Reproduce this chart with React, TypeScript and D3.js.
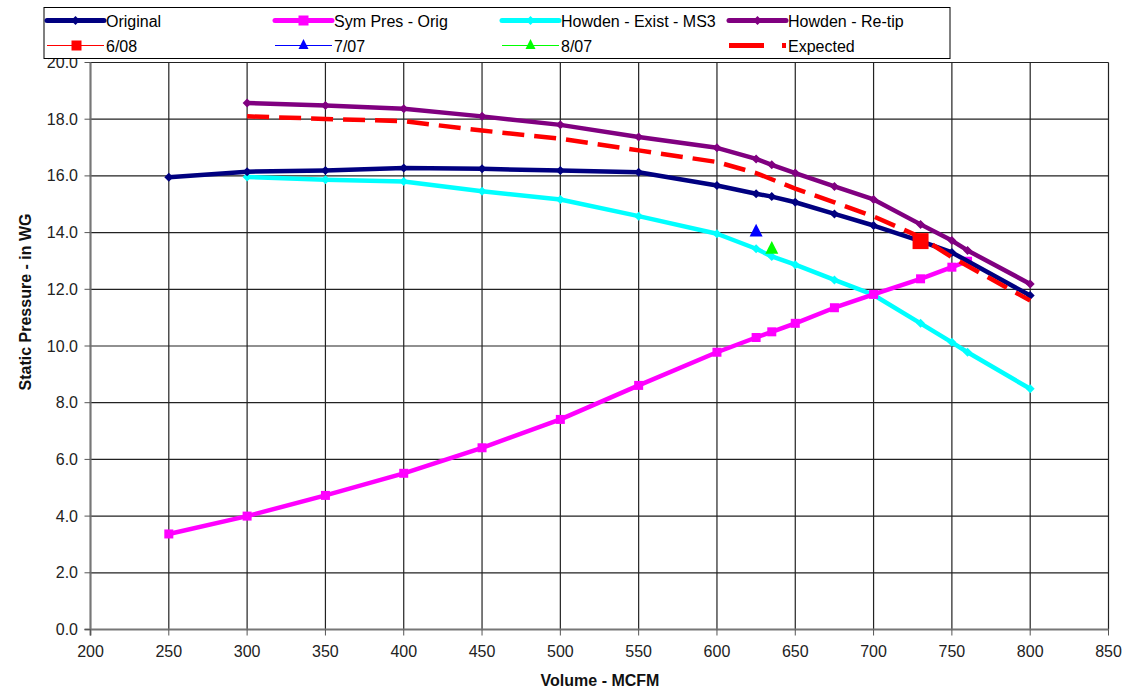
import React from "react";
import * as d3 from "d3";

const volOriginal = [250, 300, 350, 400, 450, 500, 550, 600, 625, 635, 650, 675, 700, 730, 750, 800];
const presOriginal = [15.95, 16.15, 16.19, 16.28, 16.25, 16.19, 16.13, 15.66, 15.37, 15.27, 15.07, 14.66, 14.25, 13.7, 13.3, 11.78];

const volSym = [250, 300, 350, 400, 450, 500, 550, 600, 625, 635, 650, 675, 700, 730, 750, 760];
const presSym = [3.37, 4.0, 4.73, 5.51, 6.41, 7.41, 8.61, 9.78, 10.3, 10.5, 10.8, 11.35, 11.82, 12.37, 12.78, 12.99];

const volExist = [300, 350, 400, 450, 500, 550, 600, 625, 635, 650, 675, 700, 730, 750, 760, 800];
const presExist = [15.96, 15.86, 15.8, 15.46, 15.17, 14.58, 13.96, 13.43, 13.16, 12.87, 12.33, 11.8, 10.8, 10.13, 9.78, 8.49];

const volRetip = [300, 350, 400, 450, 500, 550, 600, 625, 635, 650, 675, 700, 730, 750, 760, 800];
const presRetip = [18.57, 18.48, 18.37, 18.1, 17.8, 17.37, 16.99, 16.6, 16.39, 16.1, 15.63, 15.17, 14.29, 13.72, 13.37, 12.19];

const volExpected = [300, 350, 400, 450, 500, 550, 600, 625, 650, 675, 700, 730, 750, 800];
const presExpected = [18.1, 18.01, 17.93, 17.6, 17.31, 16.9, 16.49, 16.1, 15.55, 15.07, 14.57, 13.84, 13.13, 11.6];

const vol0608 = [730];
const pres0608 = [13.7];
const vol0707 = [625];
const pres0707 = [14.07];
const vol0807 = [635];
const pres0807 = [13.46];

const xTicks = [200, 250, 300, 350, 400, 450, 500, 550, 600, 650, 700, 750, 800, 850];
const yTicks = [0, 2, 4, 6, 8, 10, 12, 14, 16, 18, 20];

const FONT = "'Liberation Sans', Arial, sans-serif";

const x = d3.scaleLinear().domain([200, 850]).range([90.5, 1108.5]);
const y = d3.scaleLinear().domain([0, 20]).range([629.5, 62.5]);

type Pt = [number, number];
const zip = (a: number[], b: number[]): Pt[] => a.map((v, i) => [v, b[i]]);
const line = d3.line<Pt>().x((d) => x(d[0])).y((d) => y(d[1]));

function Diamond({ cx, cy, r, fill }: { cx: number; cy: number; r: number; fill: string }) {
  return <path d={`M${cx},${cy - r}L${cx + r},${cy}L${cx},${cy + r}L${cx - r},${cy}Z`} fill={fill} />;
}
function Square({ cx, cy, s, fill }: { cx: number; cy: number; s: number; fill: string }) {
  return <rect x={cx - s / 2} y={cy - s / 2} width={s} height={s} fill={fill} />;
}
function Tri({ cx, cy, s, fill }: { cx: number; cy: number; s: number; fill: string }) {
  const h = s * 0.9;
  return <path d={`M${cx},${cy - h / 2 - 1}L${cx + s / 2},${cy + h / 2}L${cx - s / 2},${cy + h / 2}Z`} fill={fill} />;
}

const seriesLines = [
  { vols: volExist, pres: presExist, color: "#00FFFF", marker: "diamond" },
  { vols: volSym, pres: presSym, color: "#FF00FF", marker: "square" },
  { vols: volOriginal, pres: presOriginal, color: "#000080", marker: "diamond" },
  { vols: volRetip, pres: presRetip, color: "#800080", marker: "diamond" },
];

export default function App() {
  const legendRows = [
    { lx: 47, ty: 21, label: "Original", color: "#000080", kind: "diamond" },
    { lx: 275, ty: 21, label: "Sym Pres - Orig", color: "#FF00FF", kind: "square" },
    { lx: 502, ty: 21, label: "Howden - Exist - MS3", color: "#00FFFF", kind: "diamond" },
    { lx: 729, ty: 21, label: "Howden - Re-tip", color: "#800080", kind: "diamond" },
    { lx: 47, ty: 46, label: "6/08", color: "#FF0000", kind: "thinsquare" },
    { lx: 275, ty: 46, label: "7/07", color: "#0000FF", kind: "thintri" },
    { lx: 502, ty: 46, label: "8/07", color: "#00FF00", kind: "thintri" },
    { lx: 729, ty: 46, label: "Expected", color: "#FF0000", kind: "dash" },
  ];
  return (
    <svg width={1145} height={689} style={{ position: "absolute", left: 0, top: 0, background: "#fff" }}>
      <rect x={0} y={0} width={1145} height={689} fill="#fff" />
      {/* grid */}
      {xTicks.map((t) => (
        <line key={"gx" + t} x1={x(t)} x2={x(t)} y1={y(20)} y2={y(0)} stroke="#222" strokeWidth={1.2} />
      ))}
      {yTicks.map((t) => (
        <line key={"gy" + t} x1={x(200)} x2={x(850)} y1={y(t)} y2={y(t)} stroke="#222" strokeWidth={1.2} />
      ))}
      {/* axes */}
      <line x1={x(200)} x2={x(200)} y1={y(20)} y2={y(0) + 6} stroke="#777" strokeWidth={2} />
      <line x1={x(200) - 6} x2={x(850)} y1={y(0)} y2={y(0)} stroke="#777" strokeWidth={2} />
      {yTicks.map((t) => (
        <line key={"ty" + t} x1={x(200) - 6} x2={x(200)} y1={y(t)} y2={y(t)} stroke="#555" strokeWidth={1} />
      ))}
      {xTicks.map((t) => (
        <line key={"tx" + t} x1={x(t)} x2={x(t)} y1={y(0)} y2={y(0) + 6} stroke="#555" strokeWidth={1} />
      ))}
      {yTicks.map((t) => (
        <text key={"ly" + t} x={78} y={y(t) + 5.5} textAnchor="end" fontFamily={FONT} fontSize={16} fill="#222">
          {t.toFixed(1)}
        </text>
      ))}
      {xTicks.map((t) => (
        <text key={"lx" + t} x={x(t)} y={657} textAnchor="middle" fontFamily={FONT} fontSize={16} fill="#222">
          {t}
        </text>
      ))}
      <text x={600} y={686} textAnchor="middle" fontFamily={FONT} fontSize={16} fontWeight="bold" fill="#111">
        Volume - MCFM
      </text>
      <text
        transform={`translate(31,${302}) rotate(-90)`}
        textAnchor="middle"
        fontFamily={FONT}
        fontSize={16}
        fontWeight="bold"
        fill="#111"
      >
        Static Pressure - in WG
      </text>

      {/* series */}
      {seriesLines.map((s, i) => {
        const pts = zip(s.vols, s.pres);
        return (
          <g key={"s" + i}>
            <path d={line(pts) || ""} fill="none" stroke={s.color} strokeWidth={4.5} strokeLinejoin="round" />
            {pts.map((p, j) =>
              s.marker === "square" ? (
                <Square key={j} cx={x(p[0])} cy={y(p[1])} s={9} fill={s.color} />
              ) : (
                <Diamond key={j} cx={x(p[0])} cy={y(p[1])} r={4.5} fill={s.color} />
              )
            )}
          </g>
        );
      })}
      <path
        d={line(zip(volExpected, presExpected)) || ""}
        fill="none"
        stroke="#FF0000"
        strokeWidth={4.5}
        strokeDasharray="22,10"
      />
      {zip(vol0608, pres0608).map((p, j) => (
        <Square key={"a" + j} cx={x(p[0])} cy={y(p[1])} s={16} fill="#FF0000" />
      ))}
      {zip(vol0707, pres0707).map((p, j) => (
        <Tri key={"b" + j} cx={x(p[0])} cy={y(p[1])} s={13} fill="#0000FF" />
      ))}
      {zip(vol0807, pres0807).map((p, j) => (
        <Tri key={"c" + j} cx={x(p[0])} cy={y(p[1])} s={13} fill="#00FF00" />
      ))}

      {/* legend */}
      <rect x={44} y={7.5} width={906} height={51} fill="#fff" stroke="#000" strokeWidth={1} />
      {legendRows.map((r, i) => {
        const x1 = r.lx;
        const x2 = r.lx + 57;
        const mid = (x1 + x2) / 2;
        const cy = r.ty - 0.5;
        let g: React.ReactNode = null;
        if (r.kind === "diamond") {
          g = (
            <g>
              <line x1={x1} x2={x2} y1={cy} y2={cy} stroke={r.color} strokeWidth={5} strokeLinecap="round" />
              <Diamond cx={mid} cy={cy} r={4.5} fill={r.color} />
            </g>
          );
        } else if (r.kind === "square") {
          g = (
            <g>
              <line x1={x1} x2={x2} y1={cy} y2={cy} stroke={r.color} strokeWidth={5} strokeLinecap="round" />
              <Square cx={mid} cy={cy} s={10} fill={r.color} />
            </g>
          );
        } else if (r.kind === "thinsquare") {
          g = (
            <g>
              <line x1={x1} x2={x2} y1={cy} y2={cy} stroke={r.color} strokeWidth={1} />
              <Square cx={mid + 1} cy={cy} s={10} fill={r.color} />
            </g>
          );
        } else if (r.kind === "thintri") {
          g = (
            <g>
              <line x1={x1} x2={x2} y1={cy} y2={cy} stroke={r.color} strokeWidth={1.2} />
              <Tri cx={mid} cy={cy - 1} s={10} fill={r.color} />
            </g>
          );
        } else {
          g = (
            <line x1={x1} x2={x2} y1={cy} y2={cy} stroke={r.color} strokeWidth={5} strokeDasharray="35,18" />
          );
        }
        return (
          <g key={"lg" + i}>
            {g}
            <text x={x2 + 2} y={r.ty + 6} fontFamily={FONT} fontSize={16} fill="#000">
              {r.label}
            </text>
          </g>
        );
      })}
    </svg>
  );
}
